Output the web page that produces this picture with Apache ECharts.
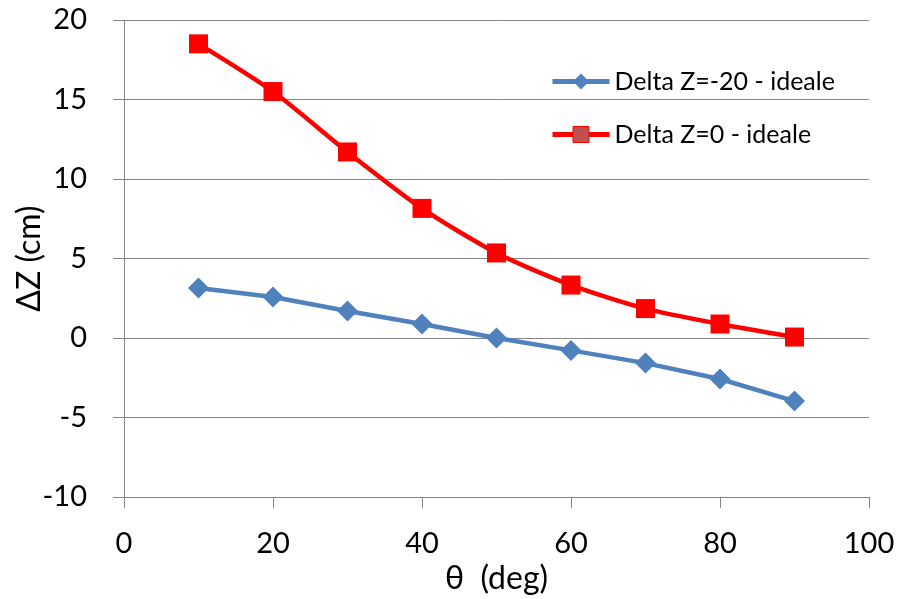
<!DOCTYPE html>
<html><head><meta charset="utf-8">
<script src="https://cdn.jsdelivr.net/npm/echarts@6/dist/echarts.min.js"></script>
<style>html,body{margin:0;padding:0;background:#fff}#c{width:901px;height:599px}</style>
</head><body><div id="c"></div>
<script>
const theta = [10, 20, 30, 40, 50, 60, 70, 80, 90];
const deltaZm20 = [3.15, 2.58, 1.7, 0.88, 0.0, -0.78, -1.58, -2.58, -3.97];
const deltaZ0 = [18.5, 15.5, 11.7, 8.15, 5.35, 3.33, 1.85, 0.88, 0.06];
const seriesNames = ['Delta Z=-20 - ideale', 'Delta Z=0 - ideale'];
const font = 'Lato, "Open Sans", sans-serif';
const chart = echarts.init(document.getElementById('c'));
chart.setOption({
  animation: false,
  textStyle: {fontFamily: font},
  grid: {left: 124, right: 32, top: 20, bottom: 102, containLabel: false, outerBoundsMode: 'none'},
  legend: {
    orient: 'vertical', left: 545, top: 64, itemGap: 28, itemWidth: 57, itemHeight: 20,
    textStyle: {fontSize: 25, color: '#000', fontFamily: font},
    data: [
      {name: seriesNames[0], lineStyle: {width: 5, color: '#4f81bd'}},
      {name: seriesNames[1], lineStyle: {width: 5, color: '#ff0000'}, itemStyle: {color: '#c0504d', borderColor: '#ff0000', borderWidth: 1}}
    ]
  },
  xAxis: {
    type: 'value', min: 0, max: 100, interval: 20,
    name: 'θ  (deg)', nameLocation: 'middle', nameGap: 66, nameMoveOverlap: false,
    nameTextStyle: {fontSize: 32, color: '#000', fontFamily: font},
    axisLine: {show: true, onZero: false, lineStyle: {color: '#868686', width: 1}},
    axisTick: {show: true, length: 11, lineStyle: {color: '#868686'}},
    axisLabel: {fontSize: 29, color: '#000', margin: 32},
    splitLine: {show: false}
  },
  yAxis: {
    type: 'value', min: -10, max: 20, interval: 5,
    name: 'ΔZ (cm)', nameLocation: 'middle', nameGap: 78, nameRotate: 90, nameMoveOverlap: false,
    nameTextStyle: {fontSize: 32, color: '#000', fontFamily: font},
    axisLine: {show: true, onZero: false, lineStyle: {color: '#868686', width: 1}},
    axisTick: {show: true, length: 11, lineStyle: {color: '#868686'}},
    axisLabel: {fontSize: 29, color: '#000', margin: 37},
    splitLine: {show: true, lineStyle: {color: '#868686', width: 1}}
  },
  series: [
    {
      name: seriesNames[0], type: 'line',
      data: theta.map((t, i) => [t, deltaZm20[i]]),
      symbol: 'diamond', symbolSize: 21,
      lineStyle: {color: '#4f81bd', width: 4.5},
      itemStyle: {color: '#4f81bd'}
    },
    {
      name: seriesNames[1], type: 'line', smooth: 0.25,
      data: theta.map((t, i) => [t, deltaZ0[i]]),
      symbol: 'rect', symbolSize: 19,
      lineStyle: {color: '#ff0000', width: 4.5},
      itemStyle: {color: '#ff0000'}
    }
  ]
});
</script></body></html>
